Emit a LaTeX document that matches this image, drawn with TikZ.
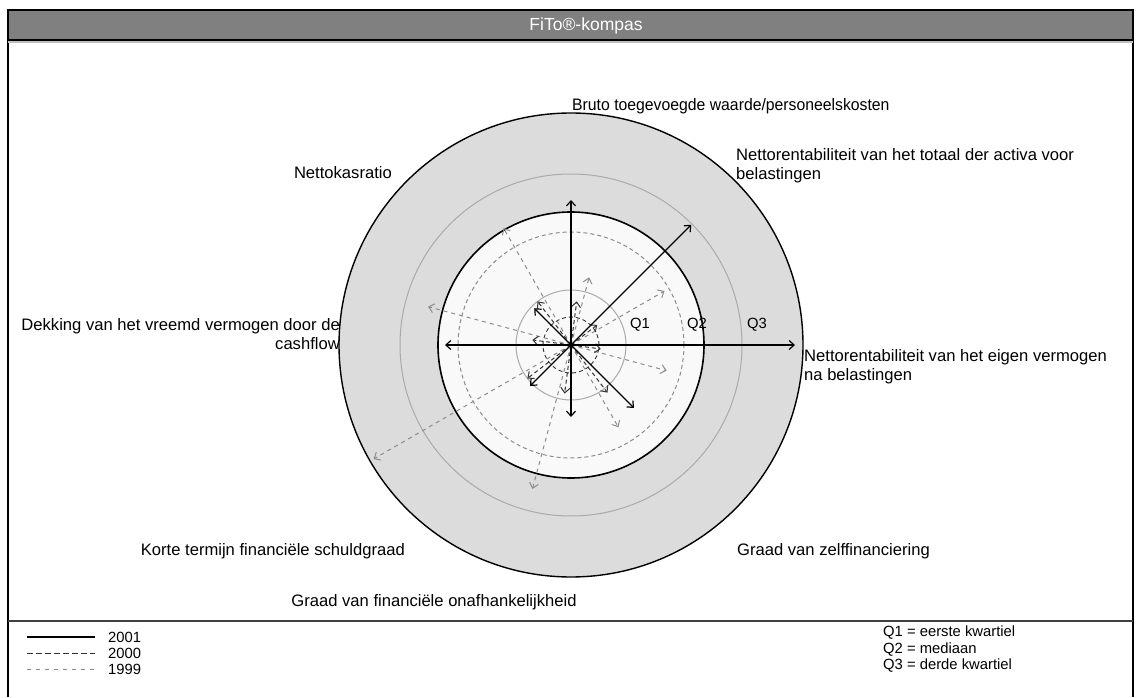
\documentclass[tikz,border=0pt]{standalone}
\usepackage{fontspec}
\setmainfont{Liberation Sans}
\usetikzlibrary{arrows.meta}
\definecolor{ringfill}{HTML}{DCDCDC}
\definecolor{innerfill}{HTML}{F9F9F9}
\definecolor{qline}{HTML}{AAAAAA}
\definecolor{titlegray}{HTML}{808080}
\definecolor{y99}{HTML}{8C8C8C}
\definecolor{y00}{HTML}{333333}
\tikzset{
  lbl/.style={inner sep=0pt, font=\fontsize{16.6}{19}\selectfont},
  leg/.style={inner sep=0pt, font=\fontsize{14.8}{18}\selectfont},
  tipA/.style={-{Straight Barb[length=5pt,width=9pt]}},
  ser01/.style={tipA, line width=1.2pt, black},
  ser00/.style={tipA, line width=1pt, y00, dash pattern=on 4pt off 3pt},
  ser99/.style={tipA, line width=1pt, y99, dash pattern=on 4pt off 4pt},
}
\begin{document}
\begin{tikzpicture}[x=1pt,y=1pt]
\useasboundingbox (0,0) rectangle (1140,697);
\fill[white] (0,0) rectangle (1140,697);
% frame
\draw[line width=1.2pt] (8,0) -- (8,657);
\draw[line width=1.2pt] (1133,0) -- (1133,657);
\draw[line width=1.5pt, black!75] (8,76) -- (1133,76);
\draw[line width=1.5pt, black!25] (8,655) -- (1133,655);
\node[fill=titlegray, draw=black, line width=1.2pt, minimum width=1125pt, minimum height=30pt,
      inner sep=0pt] (title) at (570.5,672) {};
\node[text=white, inner sep=0pt, font=\fontsize{17.5}{20}\selectfont] (titletext) at (586,671) {FiTo®-kompas};
% compass
\coordinate (C) at (571,352);
\fill[ringfill] (C) circle (232);
\draw[line width=1.4pt] (C) circle (232);
\draw[qline, line width=1pt] (C) circle (171);
\fill[innerfill] (C) circle (133);
\draw[line width=1.6pt] (C) circle (133);
\draw[y99, line width=1pt, dash pattern=on 4pt off 3pt] (C) circle (113);
\draw[qline, line width=1pt] (C) circle (55);
\draw[y00, line width=0.9pt, dash pattern=on 4pt off 3pt] (C) circle (28);
% 1999
\foreach \n/\a/\l in {a/75/70, b/30/108, c/-15/99, d/-60/95, e/-105/149, f/-150/228, g/165/148, h/120/135}{
  \path (C) ++(\a:\l) coordinate (t99\n);
  \draw[ser99] (C) -- (t99\n);
}
% 2000
\foreach \n/\a/\l in {a/82.5/44, b/37.5/33, c/-7.5/30, d/-52.5/60, e/-97.5/49, f/-142.5/55, g/172.5/39, h/127.5/55}{
  \path (C) ++(\a:\l) coordinate (t00\n);
  \draw[ser00] (C) -- (t00\n);
}
% 2001
\foreach \n/\a/\l in {a/90/145, b/45/170, c/0/224, d/-45/89, e/-90/72, f/-135/58, g/180/126, h/135/52}{
  \path (C) ++(\a:\l) coordinate (t01\n);
  \draw[ser01] (C) -- (t01\n);
}
% quartile labels
\node[leg] (q1) at (640,372) {Q1};
\node[leg] (q2) at (697,372) {Q2};
\node[leg] (q3) at (757,372) {Q3};
% axis labels
\node[lbl, anchor=west] (l1) at (572,591) {\scalebox{0.95}[1]{Bruto toegevoegde waarde/personeelskosten}};
\node[lbl, anchor=west, align=left] (l2) at (736,531) {Nettorentabiliteit van het totaal der activa voor\\belastingen};
\node[lbl, anchor=west, align=left] (l3) at (804,330) {Nettorentabiliteit van het eigen vermogen\\na belastingen};
\node[lbl, anchor=west] (l4) at (737,146) {Graad van zelffinanciering};
\node[lbl] (l5) at (434,95) {Graad van financiële onafhankelijkheid};
\node[lbl, anchor=east] (l6) at (405,146) {Korte termijn financiële schuldgraad};
\node[lbl, anchor=east, align=right] (l7) at (340,363) {Dekking van het vreemd vermogen door de\\cashflow};
\node[lbl, anchor=east] (l8) at (392,524) {Nettokasratio};
% legend
\coordinate (g1a) at (27,60); \coordinate (g1b) at (95,60);
\coordinate (g2a) at (27,44); \coordinate (g2b) at (95,44);
\coordinate (g3a) at (27,28); \coordinate (g3b) at (95,28);
\draw[line width=1.2pt] (g1a) -- (g1b);
\draw[y00, line width=1pt, dash pattern=on 6pt off 3pt] (g2a) -- (g2b);
\draw[y99, line width=1pt, dash pattern=on 4pt off 5pt] (g3a) -- (g3b);
\node[leg, anchor=west] (k1) at (108,60) {2001};
\node[leg, anchor=west] (k2) at (108,44) {2000};
\node[leg, anchor=west] (k3) at (108,28) {1999};
\node[leg, anchor=west] (m1) at (883,64) {Q1 = eerste kwartiel};
\node[leg, anchor=west] (m2) at (883,47) {Q2 = mediaan};
\node[leg, anchor=west] (m3) at (883,31) {Q3 = derde kwartiel};
\end{tikzpicture}
\end{document}
